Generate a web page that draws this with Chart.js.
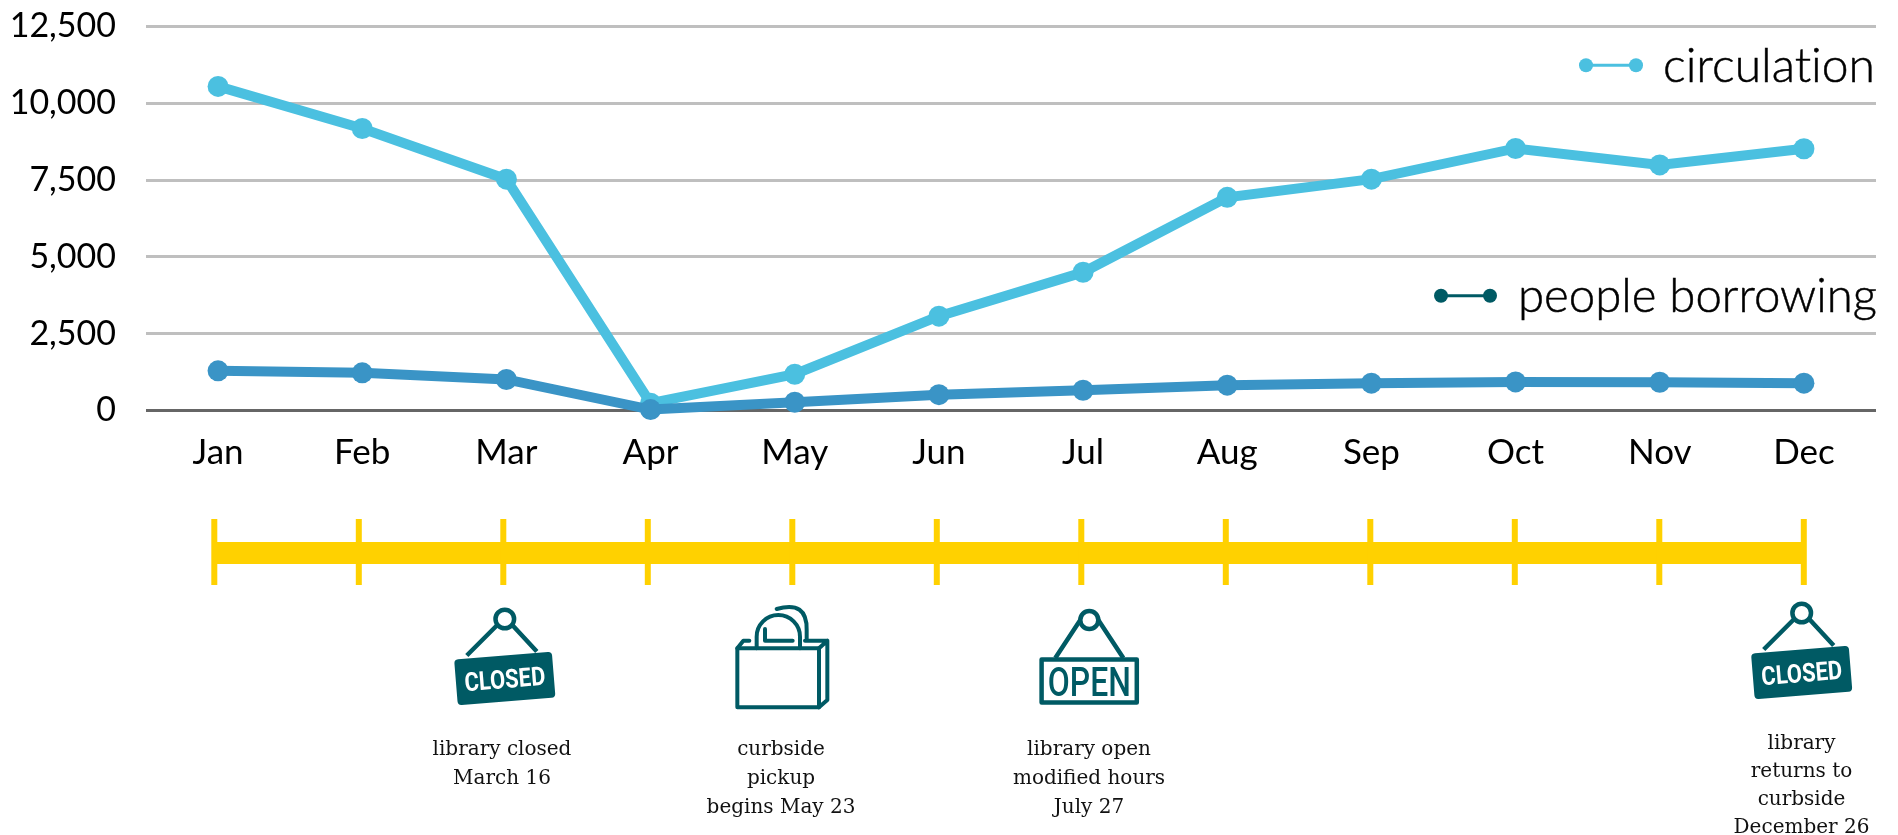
<!DOCTYPE html>
<html>
<head>
<meta charset="utf-8">
<style>html,body{margin:0;padding:0;background:#fff}canvas{display:block}</style>
<script src="https://cdn.jsdelivr.net/npm/chart.js@4"></script>
</head>
<body>
<canvas id="c" width="1898" height="835"></canvas>
<script>
const months = ['Jan','Feb','Mar','Apr','May','Jun','Jul','Aug','Sep','Oct','Nov','Dec'];
const circulation = [10550,9180,7530,240,1180,3070,4500,6940,7530,8530,7995,8520];
const peopleBorrowing = [1290,1225,1010,30,270,515,660,825,890,930,920,890];
const yTicks = [0,2500,5000,7500,10000,12500];
const seriesNames = ['circulation','people borrowing'];
const TEAL = '#005A64', SKY = '#4BC0E0', BLUE = '#3A94C6', GOLD = '#FFD100';
const LABEL_FONT = 'Lato', NOTE_FONT = '"DejaVu Serif"';

function fitText(ctx, text, xLeft, baseline, width, font, color, outline) {
  ctx.save();
  ctx.font = font; ctx.fillStyle = color; ctx.textAlign = 'left'; ctx.textBaseline = 'alphabetic';
  ctx.letterSpacing = '0.01px';
  const w = ctx.measureText(text).width;
  ctx.translate(xLeft, baseline); ctx.scale(width / w, 1);
  ctx.fillText(text, 0, 0);
  if (outline) { ctx.strokeStyle = color; ctx.lineWidth = outline; ctx.strokeText(text, 0, 0); }
  ctx.restore();
}
function legendItem(ctx, text, color, x1, x2, yc, r, textX, textEnd, baseline) {
  ctx.save();
  ctx.strokeStyle = color; ctx.lineWidth = 3;
  ctx.beginPath(); ctx.moveTo(x1, yc); ctx.lineTo(x2, yc); ctx.stroke();
  ctx.fillStyle = color;
  [x1, x2].forEach(x => { ctx.beginPath(); ctx.arc(x, yc, r, 0, Math.PI * 2); ctx.fill(); });
  ctx.restore();
  fitText(ctx, text, textX, baseline, textEnd - textX, `300 47px ${LABEL_FONT}`, '#000', 0.5);
}
function note(ctx, lines, cx, baselines) {
  ctx.save();
  ctx.font = `20px ${NOTE_FONT}`; ctx.fillStyle = '#111'; ctx.textAlign = 'center'; ctx.textBaseline = 'alphabetic';
  lines.forEach((l, i) => ctx.fillText(l, cx, baselines[i]));
  ctx.restore();
}
function closedSign(ctx, cx, cy) {
  // cx,cy = centre of the tilted board
  ctx.save();
  ctx.translate(cx, cy);
  ctx.strokeStyle = TEAL; ctx.fillStyle = TEAL;
  ctx.lineWidth = 4.5;
  ctx.beginPath(); ctx.moveTo(-38, -23); ctx.lineTo(-7, -54); ctx.moveTo(32, -27); ctx.lineTo(7, -54); ctx.stroke();
  ctx.beginPath(); ctx.arc(0, -59.5, 9.3, 0, Math.PI * 2); ctx.stroke();
  ctx.rotate(-4.6 * Math.PI / 180);
  ctx.beginPath(); ctx.roundRect(-49, -23, 98, 46, 4); ctx.fill();
  fitText(ctx, 'CLOSED', -40.5, 9.5, 81, `bold 26px Roboto`, '#fff');
  ctx.restore();
}
function openSign(ctx, cx) {
  ctx.save();
  ctx.strokeStyle = TEAL; ctx.lineWidth = 4.5; ctx.lineJoin = 'round';
  ctx.beginPath(); ctx.arc(cx, 620, 9, 0, Math.PI * 2); ctx.stroke();
  ctx.beginPath(); ctx.moveTo(cx - 34, 658); ctx.lineTo(cx - 9, 620); ctx.moveTo(cx + 34, 658); ctx.lineTo(cx + 9, 620); ctx.stroke();
  ctx.strokeRect(cx - 47.7, 659.5, 95.2, 43);
  fitText(ctx, 'OPEN', cx - 41.5, 696, 83, `500 41px Roboto`, TEAL);
  ctx.restore();
}
function bagIcon(ctx) {
  const X = v => 400 + v / 3, Y = v => 590 + v / 3;
  ctx.save();
  ctx.strokeStyle = TEAL; ctx.lineWidth = 4; ctx.lineJoin = 'round'; ctx.lineCap = 'round';
  ctx.strokeRect(X(1012), Y(175), 245 / 3, 177 / 3);
  ctx.beginPath();
  ctx.moveTo(X(1257), Y(175)); ctx.lineTo(X(1282), Y(152)); ctx.lineTo(X(1282), Y(330)); ctx.lineTo(X(1257), Y(352));
  ctx.moveTo(X(1012), Y(175)); ctx.lineTo(X(1030), Y(152)); ctx.lineTo(X(1048), Y(152));
  ctx.moveTo(X(1215), Y(152)); ctx.lineTo(X(1282), Y(152));
  ctx.moveTo(X(1070), Y(175)); ctx.lineTo(X(1070), Y(140));
  ctx.arc(X(1135), Y(140), 65 / 3, Math.PI, 0);
  ctx.lineTo(X(1200), Y(175));
  ctx.moveTo(X(1130), Y(57));
  ctx.quadraticCurveTo(X(1222), Y(30), X(1220), Y(120));
  ctx.lineTo(X(1220), Y(152));
  ctx.moveTo(X(1095), Y(117)); ctx.lineTo(X(1095), Y(152)); ctx.lineTo(X(1178), Y(152));
  ctx.stroke();
  ctx.restore();
}

const extras = {
  id: 'extras',
  afterDatasetsDraw(chart) {
    const ctx = chart.ctx;
    // legend
    legendItem(ctx, seriesNames[0], SKY, 1586, 1636, 65.3, 7, 1663, 1875, 81.5);
    legendItem(ctx, seriesNames[1], TEAL, 1441, 1490, 295.7, 7, 1518, 1877, 311.5);
    // timeline
    ctx.save();
    ctx.fillStyle = GOLD;
    const tx = i => 214.3 + i * 144.5;
    ctx.fillRect(tx(0), 542, tx(months.length - 1) - tx(0), 22);
    months.forEach((m, i) => ctx.fillRect(tx(i) - 3, 519, 6, 66));
    ctx.restore();
    // icons + notes
    closedSign(ctx, 504.8, 678.5);
    bagIcon(ctx);
    openSign(ctx, 1089.3);
    closedSign(ctx, 1801.7, 672.5);
    note(ctx, ['library closed', 'March 16'], 502, [755, 784]);
    note(ctx, ['curbside', 'pickup', 'begins May 23'], 781, [755, 784, 813]);
    note(ctx, ['library open', 'modified hours', 'July 27'], 1089, [755, 784, 813]);
    note(ctx, ['library', 'returns to', 'curbside', 'December 26'], 1801.5, [749, 777, 805, 833]);
  }
};

new Chart(document.getElementById('c').getContext('2d'), {
  type: 'line',
  plugins: [extras],
  data: {
    labels: months,
    datasets: [
      { label: seriesNames[0], data: circulation, order: 2, clip: false, borderColor: SKY, backgroundColor: SKY, borderWidth: 10, pointRadius: 10.5, pointHoverRadius: 10.5, pointBackgroundColor: SKY, pointBorderWidth: 0, tension: 0, fill: false },
      { label: seriesNames[1], data: peopleBorrowing, order: 1, clip: false, borderColor: BLUE, backgroundColor: BLUE, borderWidth: 10, pointRadius: 10.5, pointHoverRadius: 10.5, pointBackgroundColor: BLUE, pointBorderWidth: 0, tension: 0, fill: false }
    ]
  },
  options: {
    responsive: false,
    animation: false,
    devicePixelRatio: 1,
    layout: { autoPadding: false, padding: { top: 26.5, right: 22, left: 0, bottom: 0 } },
    plugins: { legend: { display: false }, tooltip: { enabled: false }, title: { display: false } },
    scales: {
      x: {
        afterFit: s => { s.height = 424.5; s.paddingLeft = 0; s.paddingRight = 0; },
        offset: true,
        grid: { display: false, drawTicks: false },
        border: { display: false },
        ticks: { color: '#000', font: { family: LABEL_FONT, size: 35, weight: '400' }, padding: 21, maxRotation: 0, autoSkip: false }
      },
      y: {
        afterFit: s => { s.width = 146; s.paddingTop = 0; s.paddingBottom = 0; },
        min: 0, max: 12500,
        afterBuildTicks: s => { s.ticks = yTicks.map(v => ({ value: v })); },
        grid: { drawTicks: false, lineWidth: 3, color: c => c.tick && c.tick.value === 0 ? '#666666' : '#BFBFBF' },
        border: { display: false },
        ticks: { color: '#000', font: { family: LABEL_FONT, size: 34, weight: '400' }, padding: 30, callback: v => v.toLocaleString('en-US') }
      }
    }
  }
});
</script>
</body>
</html>
